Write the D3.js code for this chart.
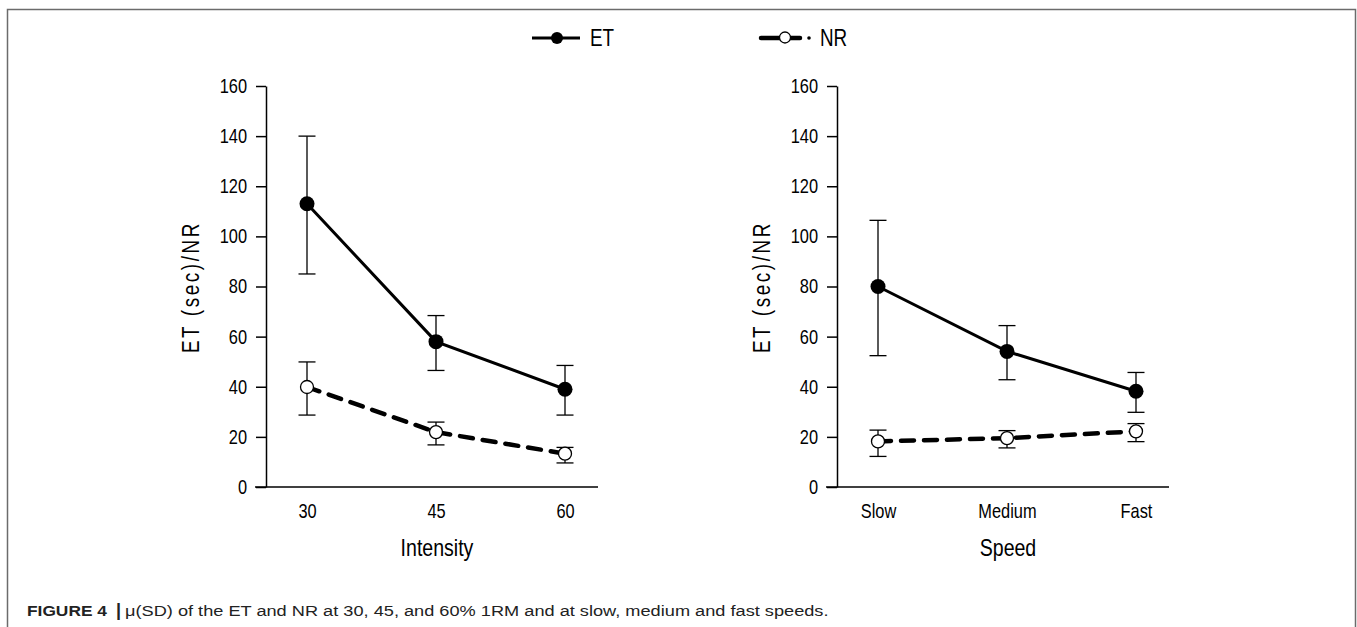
<!DOCTYPE html>
<html>
<head>
<meta charset="utf-8">
<script src="https://cdn.jsdelivr.net/npm/d3@7"></script>
<style>
  body { margin: 0; background: #fff; }
  text { font-family: "Liberation Sans", Arial, sans-serif; fill: #000; }
</style>
</head>
<body>
<script>
// data
var intensityCats = ["30", "45", "60"];
var speedCats = ["Slow", "Medium", "Fast"];
var yTicks = [0, 20, 40, 60, 80, 100, 120, 140, 160];

var etIntensity = [113, 58, 39];
var etIntensityHi = [140, 68.4, 48.5];
var etIntensityLo = [85, 46.5, 28.7];
var nrIntensity = [39.9, 21.9, 13.3];
var nrIntensityHi = [49.9, 25.9, 15.8];
var nrIntensityLo = [28.7, 16.8, 9.6];

var etSpeed = [80, 54.1, 38.2];
var etSpeedHi = [106.4, 64.4, 45.7];
var etSpeedLo = [52.4, 42.8, 29.8];
var nrSpeed = [18.2, 19.5, 22.2];
var nrSpeedHi = [22.7, 22.5, 25.3];
var nrSpeedLo = [12.2, 15.6, 18.1];

var FONT = "Liberation Sans, Arial, sans-serif";
var SX = 0.82; // the figure uses a condensed face
var W = 1357, H = 627;
var svg = d3.select("body").append("svg")
    .attr("width", W)
    .attr("height", H);

// squeeze text horizontally around its anchor x
function condense(sel, ax, sx) {
    sel.attr("transform", "translate(" + ax + ",0) scale(" + sx + ",1) translate(" + (-ax) + ",0)");
}

// frame around the figure (open at bottom)
svg.append("path")
    .attr("d", "M7.5," + H + "V9.5H1355.5V" + H)
    .attr("fill", "none")
    .attr("stroke", "#6b6b6b")
    .attr("stroke-width", 1.5);

function drawPanel(ox, cats, xTitle, et, etHi, etLo, nr, nrHi, nrLo) {
    // ox = x of the y axis line
    var y = d3.scaleLinear().domain([0, 160]).range([487, 86]);
    var x = d3.scalePoint().domain(cats).range([ox + 41, ox + 299]);

    var g = svg.append("g");

    // y axis
    var yAxis = d3.axisLeft(y).tickValues(yTicks).tickSize(10).tickPadding(9).tickSizeOuter(0);
    var ya = g.append("g")
        .attr("transform", "translate(" + ox + ",0)")
        .call(yAxis);
    ya.select(".domain").attr("stroke-width", 1.5);
    ya.selectAll(".tick line").attr("stroke-width", 1.5);
    ya.selectAll("text")
        .attr("font-size", "20px")
        .attr("font-family", FONT)
        .call(condense, -19, SX);

    // x axis: plain line, no ticks
    var xa = d3.axisBottom(x).tickSize(0).tickPadding(17).tickSizeOuter(0);
    var xg = g.append("g")
        .attr("transform", "translate(0,487)")
        .call(xa);
    xg.select(".domain")
        .attr("d", "M" + (ox - 11) + ",0H" + (ox + 332))
        .attr("stroke-width", 1.5);
    xg.selectAll("text")
        .attr("font-size", "20px")
        .attr("font-family", FONT)
        .call(condense, 0, SX);

    // axis titles
    g.append("text")
        .attr("x", ox + 171)
        .attr("y", 556)
        .attr("text-anchor", "middle")
        .attr("font-size", "23px")
        .text(xTitle)
        .call(condense, ox + 171, 0.85);

    g.append("text")
        .attr("transform", "translate(" + (ox - 67) + ",287) rotate(-90) scale(" + SX + ",1)")
        .attr("text-anchor", "middle")
        .attr("font-size", "23px")
        .attr("letter-spacing", "3.2px")
        .text("ET (sec)/NR");

    var etPts = cats.map(function (c, i) { return {c: c, v: et[i], hi: etHi[i], lo: etLo[i]}; });
    var nrPts = cats.map(function (c, i) { return {c: c, v: nr[i], hi: nrHi[i], lo: nrLo[i]}; });

    var line = d3.line().x(function (d) { return x(d.c); }).y(function (d) { return y(d.v); });

    g.append("path")
        .datum(etPts)
        .attr("d", line)
        .attr("fill", "none")
        .attr("stroke", "#000")
        .attr("stroke-width", 3);

    g.append("path")
        .datum(nrPts)
        .attr("d", line)
        .attr("fill", "none")
        .attr("stroke", "#000")
        .attr("stroke-width", 4.5)
        .attr("stroke-linecap", "round")
        .attr("stroke-dasharray", "13,10");

    // error bars
    [etPts, nrPts].forEach(function (pts) {
        var eb = g.selectAll(null).data(pts).enter().append("g");
        eb.append("line")
            .attr("x1", function (d) { return x(d.c); })
            .attr("x2", function (d) { return x(d.c); })
            .attr("y1", function (d) { return y(d.hi); })
            .attr("y2", function (d) { return y(d.lo); })
            .attr("stroke", "#000").attr("stroke-width", 1.3);
        ["hi", "lo"].forEach(function (k) {
            eb.append("line")
                .attr("x1", function (d) { return x(d.c) - 8.5; })
                .attr("x2", function (d) { return x(d.c) + 8.5; })
                .attr("y1", function (d) { return y(d[k]); })
                .attr("y2", function (d) { return y(d[k]); })
                .attr("stroke", "#000").attr("stroke-width", 1.3);
        });
    });

    g.selectAll(null).data(etPts).enter().append("circle")
        .attr("cx", function (d) { return x(d.c); })
        .attr("cy", function (d) { return y(d.v); })
        .attr("r", 7.5)
        .attr("fill", "#000");

    g.selectAll(null).data(nrPts).enter().append("circle")
        .attr("cx", function (d) { return x(d.c); })
        .attr("cy", function (d) { return y(d.v); })
        .attr("r", 6.5)
        .attr("fill", "#fff")
        .attr("stroke", "#000")
        .attr("stroke-width", 1.3);
}

drawPanel(266, intensityCats, "Intensity", etIntensity, etIntensityHi, etIntensityLo,
    nrIntensity, nrIntensityHi, nrIntensityLo);
drawPanel(837, speedCats, "Speed", etSpeed, etSpeedHi, etSpeedLo,
    nrSpeed, nrSpeedHi, nrSpeedLo);

// legend
var legend = svg.append("g");
legend.append("line")
    .attr("x1", 532).attr("x2", 580).attr("y1", 38).attr("y2", 38)
    .attr("stroke", "#000").attr("stroke-width", 3);
legend.append("circle")
    .attr("cx", 557).attr("cy", 38).attr("r", 6).attr("fill", "#000");
legend.append("text")
    .attr("x", 590).attr("y", 46.5)
    .attr("font-size", "23px")
    .text("ET")
    .call(condense, 590, SX);

legend.append("path")
    .attr("d", "M761,38H800")
    .attr("stroke", "#000").attr("stroke-width", 4.5)
    .attr("stroke-linecap", "round")
    .attr("fill", "none");
legend.append("circle")
    .attr("cx", 809).attr("cy", 38).attr("r", 1.8).attr("fill", "#000");
legend.append("circle")
    .attr("cx", 785).attr("cy", 37.5).attr("r", 5.5)
    .attr("fill", "#fff").attr("stroke", "#000").attr("stroke-width", 1.3);
legend.append("text")
    .attr("x", 820).attr("y", 46.5)
    .attr("font-size", "23px")
    .text("NR")
    .call(condense, 820, SX);

// caption: bold label, bar, then condensed body text
function fitText(txt, x0, width, bold, size) {
    var t = svg.append("text")
        .attr("x", x0)
        .attr("y", 616)
        .attr("font-size", (size || 15.5) + "px")
        .attr("font-weight", bold ? "bold" : "normal")
        .style("fill", "#222")
        .text(txt);
    if (width) t.call(condense, x0, width / t.node().getComputedTextLength());
    return t;
}
fitText("FIGURE 4", 27, 80, true);
fitText("|", 116, 0, true, 18);
fitText("\u03bc(SD) of the ET and NR at 30, 45, and 60% 1RM and at slow, medium and fast speeds.", 125, 704, false);
</script>
</body>
</html>
